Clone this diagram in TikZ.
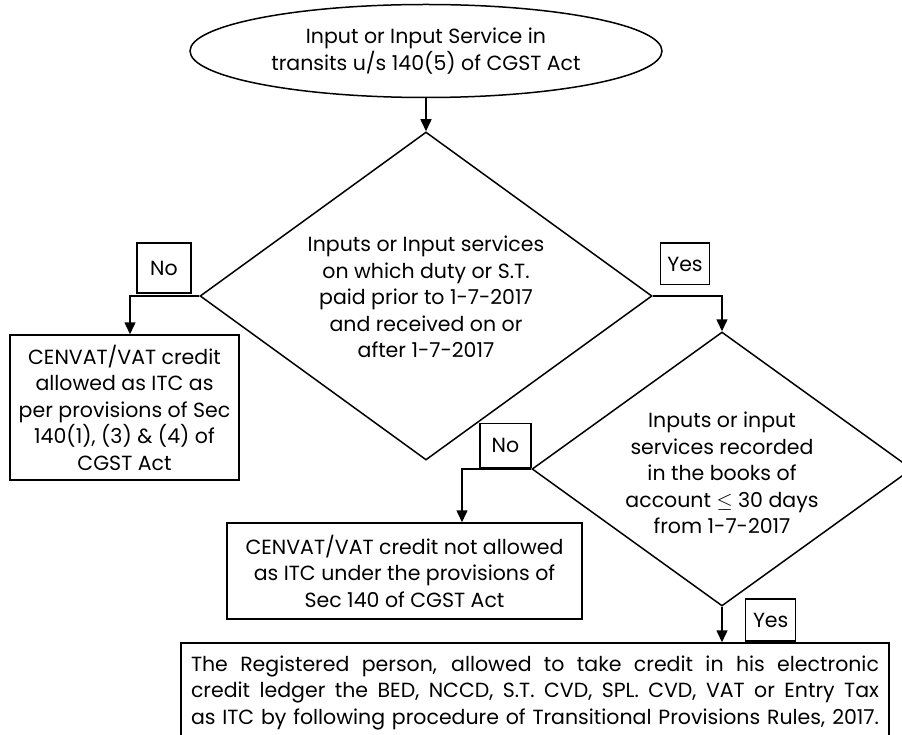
\documentclass[tikz,border=0pt]{standalone}
\usepackage{fontspec}
\setmainfont{Poppins}
\usetikzlibrary{shapes.geometric,arrows.meta}
\begin{document}
\begin{tikzpicture}[x=1pt,y=-1pt,line width=1.5pt,
  every node/.style={font=\fontsize{20.5}{26.5}\selectfont},
  box/.style={draw,rectangle,inner sep=0pt,align=center},
  lbl/.style={draw,rectangle,inner sep=0pt,line width=1.3pt},
  txt/.style={align=center,inner sep=0pt},
  arr/.style={-{Triangle[width=11pt,length=12pt]},line width=1.5pt}]
\useasboundingbox[fill=white] (0,0) rectangle (902,735);
% shapes
\node[draw,ellipse,minimum width=472pt,minimum height=93pt,inner sep=0pt,align=center] (start) at (426,51)
  {Input or Input Service in\\transits u/s 140(5) of CGST Act};
\node[draw,diamond,minimum width=452pt,minimum height=328pt,inner sep=0pt] (d1) at (426,296) {};
\node[txt] (d1t) at (426,297) {Inputs or Input services\\on which duty or S.T.\\paid prior to 1-7-2017\\and received on or\\after 1-7-2017};
\node[draw,diamond,minimum width=380pt,minimum height=274pt,inner sep=0pt] (d2) at (722,469) {};
\node[txt] (d2t) at (722,473) {Inputs or input\\services recorded\\in the books of\\account $\le$ 30 days\\from 1-7-2017};
\node[box,minimum width=229pt,minimum height=145pt] (left) at (124.5,407.5)
  {CENVAT/VAT credit\\allowed as ITC as\\per provisions of Sec\\140(1), (3) \& (4) of\\CGST Act};
\node[box,minimum width=355pt,minimum height=96pt] (mid) at (404.5,571)
  {CENVAT/VAT credit not allowed\\as ITC under the provisions of\\Sec 140 of CGST Act};
\node[box,minimum width=708pt,minimum height=99pt] (final) at (535,692.5)
  {\makebox[688pt][s]{The Registered person, allowed to take credit in his electronic}\\
   \makebox[688pt][s]{credit ledger the BED, NCCD, S.T. CVD, SPL. CVD, VAT or Entry Tax}\\
   \makebox[688pt][s]{as ITC by following procedure of Transitional Provisions Rules, 2017.}};
% labels
\node[lbl,minimum width=54pt,minimum height=50pt] (no1) at (164,268) {No};
\node[lbl,minimum width=48.6pt,minimum height=41.7pt] (yes1) at (685,264) {Yes};
\node[lbl,minimum width=51pt,minimum height=44pt] (no2) at (505.5,445.5) {No};
\node[lbl,minimum width=50pt,minimum height=42pt] (yes2) at (770.7,620) {Yes};
% connectors
\draw[arr] (start.south) -- (d1.north);
\draw[arr] (d1.west) -| ([xshift=5.5pt]left.north);
\draw[arr] (d1.east) -| (d2.north);
\draw[arr] (d2.west) -| ([xshift=57.5pt]mid.north);
\draw[arr] (d2.south) -- (d2.south |- final.north);
\end{tikzpicture}
\end{document}
